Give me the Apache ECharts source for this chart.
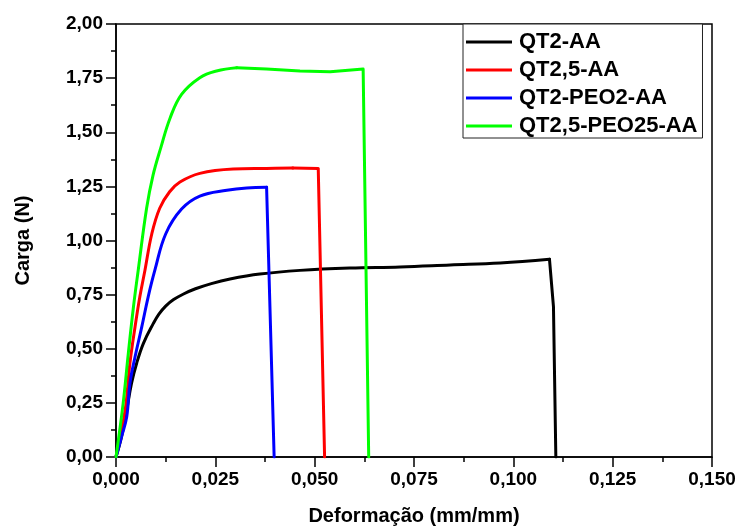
<!DOCTYPE html>
<html>
<head>
<meta charset="utf-8">
<script src="https://cdn.jsdelivr.net/npm/echarts@6/dist/echarts.min.js"></script>
<style>
  html, body { margin: 0; padding: 0; background: #fff; }
  #chart { width: 741px; height: 526px; }
</style>
</head>
<body>
<div id="chart"></div>
<script>
// Load–strain curves (strain in mm/mm, load in N)
const seriesNames = ['QT2-AA', 'QT2,5-AA', 'QT2-PEO2-AA', 'QT2,5-PEO25-AA'];
const seriesColors = ['#000000', '#ff0000', '#0000ff', '#00ff00'];

const qt2X = [0, 0.0014, 0.0027, 0.0039, 0.0052, 0.0069, 0.0094, 0.0108, 0.0125, 0.0145, 0.017, 0.02, 0.024, 0.0287, 0.0362, 0.0463, 0.0589, 0.0715, 0.0841, 0.0967, 0.1091, 0.1101, 0.1107];
const qt2Y = [0, 0.094, 0.217, 0.34, 0.433, 0.525, 0.617, 0.66, 0.697, 0.727, 0.753, 0.777, 0.801, 0.822, 0.845, 0.862, 0.873, 0.878, 0.887, 0.896, 0.913, 0.694, 0];

const qt25X = [0, 0.0023, 0.0035, 0.0048, 0.006, 0.0073, 0.009, 0.011, 0.0135, 0.0161, 0.0211, 0.0295, 0.0379, 0.0445, 0.0509, 0.0525];
const qt25Y = [0, 0.217, 0.433, 0.602, 0.74, 0.864, 1.03, 1.149, 1.225, 1.27, 1.31, 1.33, 1.333, 1.335, 1.333, 0];

const peo2X = [0, 0.0014, 0.0027, 0.0035, 0.0048, 0.0065, 0.0081, 0.0098, 0.0125, 0.0165, 0.0211, 0.0279, 0.0329, 0.0379, 0.0398];
const peo2Y = [0, 0.094, 0.186, 0.34, 0.463, 0.602, 0.74, 0.864, 1.03, 1.145, 1.205, 1.232, 1.243, 1.246, 0];

const peo25X = [0, 0.0018, 0.0031, 0.0044, 0.0056, 0.0077, 0.0093, 0.0113, 0.0136, 0.0165, 0.0211, 0.0253, 0.0304, 0.0379, 0.0463, 0.0539, 0.0622, 0.0636];
const peo25Y = [0, 0.248, 0.479, 0.694, 0.864, 1.149, 1.3, 1.43, 1.565, 1.675, 1.752, 1.783, 1.798, 1.792, 1.783, 1.78, 1.792, 0];

const xTicks = { min: 0, max: 0.15, interval: 0.025 };
const yTicks = { min: 0, max: 2, interval: 0.25 };

const pairs = (xs, ys) => xs.map((x, i) => [x, ys[i]]);
const curves = [
  pairs(qt2X, qt2Y),
  pairs(qt25X, qt25Y),
  pairs(peo2X, peo2Y),
  pairs(peo25X, peo25Y)
];

const FONT = '"Liberation Sans", Arial, sans-serif';
const comma = (v, d) => v.toFixed(d).replace('.', ',');

// Each curve: a smooth loading branch up to the peak, then a straight fracture drop.
const series = [];
curves.forEach((data, i) => {
  let peak = 0;
  data.forEach((p, k) => { if (p[1] > data[peak][1]) peak = k; });
  const common = {
    name: seriesNames[i],
    type: 'line',
    showSymbol: false,
    symbol: 'none',
    color: seriesColors[i],
    lineStyle: { color: seriesColors[i], width: 3, join: 'round', cap: 'round' },
    z: 2 + i
  };
  series.push(Object.assign({}, common, { data: data.slice(0, peak + 1), smooth: 0.4 }));
  series.push(Object.assign({}, common, { data: data.slice(peak), smooth: false }));
});

const chart = echarts.init(document.getElementById('chart'), null, { renderer: 'canvas' });

chart.setOption({
  animation: false,
  backgroundColor: '#ffffff',
  grid: {
    left: 116, right: 29, top: 24, bottom: 69,
    outerBoundsMode: 'none',
    containLabel: false,
    show: true, borderColor: '#000', borderWidth: 1.5, backgroundColor: 'transparent'
  },
  legend: {
    orient: 'vertical',
    left: 463, top: 24,
    padding: [7, 5, 1, 3],
    itemGap: 6,
    itemWidth: 46, itemHeight: 3,
    icon: 'rect',
    borderColor: '#222', borderWidth: 1,
    backgroundColor: '#fff',
    textStyle: { fontFamily: FONT, fontWeight: 'bold', fontSize: 22, color: '#000', lineHeight: 22, padding: [0, 0, 0, 2] },
    data: seriesNames
  },
  xAxis: {
    type: 'value',
    min: xTicks.min, max: xTicks.max, interval: xTicks.interval,
    name: 'Deformação (mm/mm)',
    nameLocation: 'middle',
    nameGap: 49,
    nameTextStyle: { fontFamily: FONT, fontWeight: 'bold', fontSize: 20, color: '#000' },
    axisLine: { show: true, onZero: false, lineStyle: { color: '#000', width: 1.5 } },
    axisTick: { show: true, inside: false, length: 10, lineStyle: { color: '#000', width: 1.5 } },
    minorTick: { show: true, splitNumber: 2, length: 5, lineStyle: { color: '#000', width: 1.5 } },
    splitLine: { show: false },
    axisLabel: {
      margin: 13,
      fontFamily: FONT, fontWeight: 'bold', fontSize: 19, color: '#000',
      formatter: v => comma(v, 3)
    }
  },
  yAxis: {
    type: 'value',
    min: yTicks.min, max: yTicks.max, interval: yTicks.interval,
    name: 'Carga (N)',
    nameLocation: 'middle',
    nameGap: 83,
    nameTextStyle: { fontFamily: FONT, fontWeight: 'bold', fontSize: 20, color: '#000' },
    axisLine: { show: true, onZero: false, lineStyle: { color: '#000', width: 1.5 } },
    axisTick: { show: true, inside: false, length: 10, lineStyle: { color: '#000', width: 1.5 } },
    minorTick: { show: true, splitNumber: 2, length: 5, lineStyle: { color: '#000', width: 1.5 } },
    splitLine: { show: false },
    axisLabel: {
      margin: 13,
      fontFamily: FONT, fontWeight: 'bold', fontSize: 19, color: '#000',
      formatter: v => comma(v, 2)
    }
  },
  series: series
});
</script>
</body>
</html>
